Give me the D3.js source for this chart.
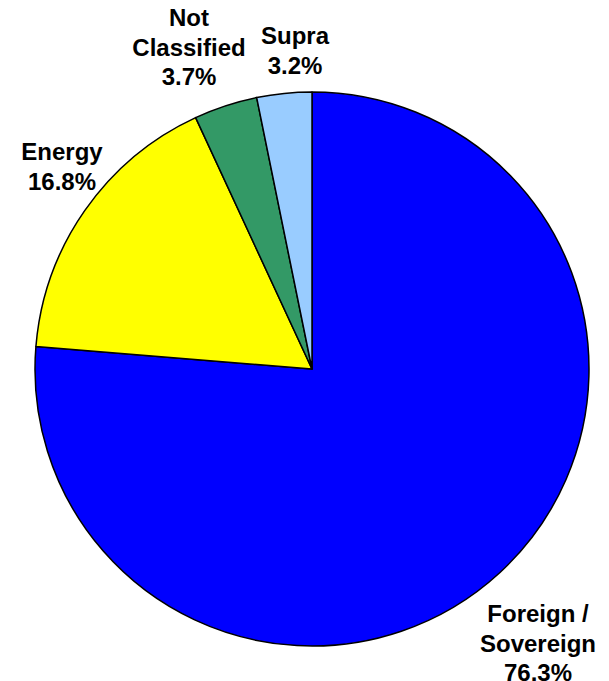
<!DOCTYPE html>
<html><head><meta charset="utf-8">
<script src="https://cdn.jsdelivr.net/npm/d3@7/dist/d3.min.js"></script>
<style>body{margin:0;background:#fff}svg{display:block}</style>
</head><body>
<script>
const categories = ["Foreign / Sovereign", "Energy", "Not Classified", "Supra"];
const values = [76.3, 16.8, 3.7, 3.2];
const valueLabels = ["76.3%", "16.8%", "3.7%", "3.2%"];
const colors = ["#0000FF", "#FFFF00", "#339966", "#99CCFF"];

const W = 609, H = 681;
const cx = 312, cy = 369, R = 277;
const svg = d3.select("body").append("svg").attr("width", W).attr("height", H);
const g = svg.append("g").attr("transform", `translate(${cx},${cy})`);

const pie = d3.pie().sort(null).value(d => d)(values);
const arc = d3.arc().innerRadius(0).outerRadius(R);
g.selectAll("path").data(pie).enter().append("path")
  .attr("d", arc).attr("fill", (d, i) => colors[i])
  .attr("stroke", "#000").attr("stroke-width", 1.5).attr("stroke-linejoin", "round");

// label layout: [center x, first baseline y, lines]
const labelLines = [
  ["Foreign /", "Sovereign", valueLabels[0]],
  ["Energy", valueLabels[1]],
  ["Not", "Classified", valueLabels[2]],
  ["Supra", valueLabels[3]]
];
const labelPos = [[538, 622], [62, 160], [189, 26], [295, 44]];
const lh = 29.5;
labelLines.forEach((lines, i) => {
  const t = svg.append("text")
    .attr("text-anchor", "middle")
    .attr("font-family", "Liberation Sans, Arial, sans-serif")
    .attr("font-weight", "bold").attr("font-size", 24).attr("fill", "#000");
  lines.forEach((s, j) => {
    t.append("tspan").attr("x", labelPos[i][0]).attr("y", labelPos[i][1] + j * lh).text(s);
  });
});
</script>
</body></html>
